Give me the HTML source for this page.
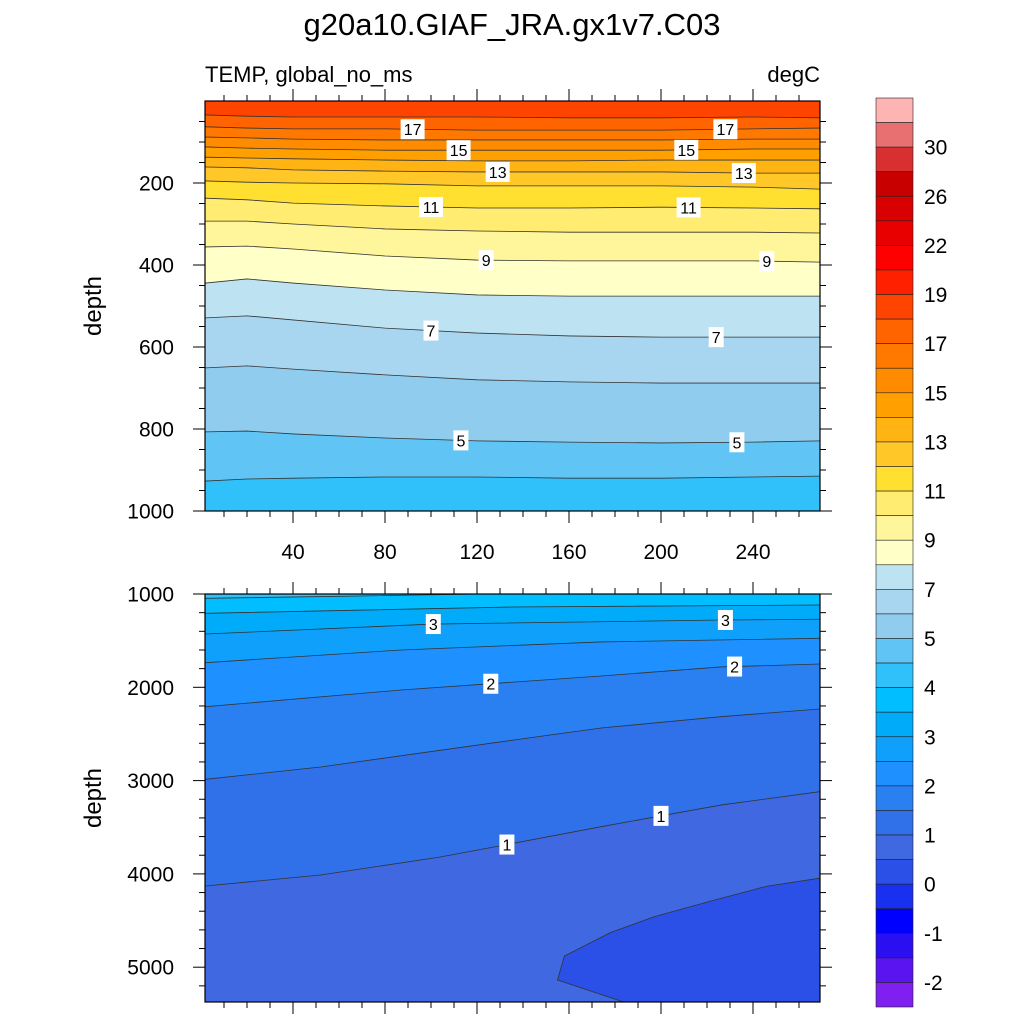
<!DOCTYPE html>
<html><head><meta charset="utf-8"><style>
html,body{margin:0;padding:0;background:#fff;}
svg{display:block;font-family:"Liberation Sans",sans-serif;}
</style></head><body>
<svg id="c" width="1024" height="1024" viewBox="0 0 1024 1024">
<text x="512" y="35" text-anchor="middle" font-size="31">g20a10.GIAF_JRA.gx1v7.C03</text>
<text x="205" y="82" font-size="22">TEMP, global_no_ms</text>
<text x="820" y="82" font-size="22" text-anchor="end">degC</text>
<g id="top"></g>
<g id="bot"></g>
<g id="cb"></g>
</svg>
<script>
// ---- data ----
const cbColors = ["#ffb4b4","#e87070","#d83030","#c80000","#d80000","#e80000","#ff0000","#ff2000","#ff4400","#ff6400","#ff7800","#ff8c00","#ffa000","#ffb414","#ffc828","#ffe030","#ffec70","#fff59a","#ffffc8","#bde3f2","#a8d6f0","#90cced","#60c4f4","#30c0fa","#00beff","#00acfa","#0ea0fa","#1e90ff","#2a80f0","#3070e8","#4068e0","#2a50e8","#1a30f0","#0000ff","#2a10f0","#5a14f0","#8020f0"];
const cbLevels = [32,30,28,26,24,22,20,19,18,17,16,15,14,13,12,11,10,9,8,7,6,5,4.5,4,3.5,3,2.5,2,1.5,1,0.5,0,-0.5,-1,-1.5,-2];
const cbTickLabels = ["30","26","22","19","17","15","13","11","9","7","5","4","3","2","1","0","-1","-2"];

const topXs = [2,20,40,80,120,160,200,240,269];
const topLevels = [18,17,16,15,14,13,12,11,10,9,8,7,6,5,4.5];
const topDepths = [
 [34,37,39,39,39,41,41,39,41],
 [63,66,68,68,71,71,71,68,66],
 [88,90,93,95,95,95,95,93,93],
 [112,115,117,120,120,120,120,117,117],
 [137,139,141,144,146,146,144,144,144],
 [161,163,168,171,173,173,173,176,176],
 [195,198,200,202,207,207,207,210,215],
 [237,241,249,256,261,261,259,261,263],
 [293,293,300,312,317,320,320,320,322],
 [356,354,361,378,388,390,390,390,393],
 [444,434,444,461,473,476,476,476,476],
 [529,524,534,554,566,573,576,576,576],
 [651,646,654,668,680,685,688,688,688],
 [807,805,812,822,829,832,834,832,829],
 [927,922,920,917,917,920,920,917,915]
];
const topLabelLevels = [17,17,15,15,13,13,11,11,9,9,7,7,5,5];
const topLabelXs = [92,228,112,211,129,236,100,212,124,246,100,224,113,233];

const botLevels = [4,3.5,3,2.5,2,1.5,1,0.5];
const botXs = [
 [2,60,122,269],
 [2,136,269],
 [2,101,226,269],
 [2,87,174,269],
 [2,87,174,226,269],
 [2,52,136,174,226,269],
 [2,52,104,132,174,226,269],
 [187,155,158,178,197,221,246,269]
];
const botDepths = [
 [1046,1025,1000,990],
 [1207,1139,1118],
 [1429,1322,1279,1271],
 [1736,1600,1514,1475],
 [2208,2029,1879,1782,1750],
 [2986,2854,2565,2436,2315,2233],
 [4130,4012,3819,3690,3494,3262,3119],
 [5400,5137,4880,4630,4459,4296,4132,4046]
];
const botLabelLevels = [3,3,2,2,1,1];
const botLabelXs = [101,228,126,232,133,200];

const topYTicks = [200,400,600,800,1000];
const botYTicks = [1000,2000,3000,4000,5000];
const xTicks = [40,80,120,160,200,240];

// ---- helpers ----
const NS="http://www.w3.org/2000/svg";
function mk(tag,attrs,parent){const e=document.createElementNS(NS,tag);for(const k in attrs)e.setAttribute(k,attrs[k]);parent.appendChild(e);return e;}
function colorOf(lo){const i=cbLevels.indexOf(lo); return cbColors[i+1];}
function colorAbove(lv){const i=cbLevels.indexOf(lv);return cbColors[i];}
const X0=201, XS=2.3, XL=205, XR=820;
const xp=v=>X0+v*XS;

function panel(g,cfg){
  const {yTop,yBot,d0,d1,levels,xsFn,depths,labLv,labX,yTicks,minorStep,clipId,name}=cfg;
  const yp=d=>yTop+(d-d0)/(d1-d0)*(yBot-yTop);
  const defs=mk('defs',{},g);
  const cp=mk('clipPath',{id:clipId},defs);
  mk('rect',{x:XL,y:yTop,width:XR-XL,height:yBot-yTop},cp);
  const inner=mk('g',{'clip-path':`url(#${clipId})`},g);
  const bg=mk('rect',{x:XL,y:yTop,width:XR-XL,height:yBot-yTop,fill:colorAbove(levels[0])},inner);
  
  
  const lines=[];
  levels.forEach((lv,i)=>{
    const xs=xsFn(i), ds=depths[i];
    const pts=xs.map((x,j)=>[xp(x),yp(ds[j])]);
    lines.push({lv,xs,ds});
    const poly=pts.map(p=>p.join(',')).concat([[xp(xs[xs.length-1]),yBot+20].join(','),[xp(xs[0]),yBot+20].join(',')]);
    if(xs[0]<=2){poly.push([XL-5,yBot+20].join(','));poly.push([XL-5,pts[0][1]].join(','));}
    if(xs[xs.length-1]>=269){poly.splice(pts.length,0,[XR+5,pts[pts.length-1][1]].join(','),[XR+5,yBot+20].join(','));}
    const band=mk('polygon',{points:poly.join(' '),fill:colorOf(lv)},inner);
    
    
  });
  lines.forEach(l=>{
    const pts=l.xs.map((x,j)=>[xp(x),yp(l.ds[j])]);
    if(l.xs[0]<=2)pts.unshift([XL-5,pts[0][1]]);
    if(l.xs[l.xs.length-1]>=269)pts.push([XR+5,pts[pts.length-1][1]]);
    const pl=mk('polyline',{points:pts.map(p=>p.join(',')).join(' '),fill:'none',stroke:'#333','stroke-width':0.8},inner);
    
    
  });
  labLv.forEach((lv,k)=>{
    const l=lines.find(q=>q.lv===lv); const x=labX[k];
    let d=l.ds[0];
    for(let j=0;j<l.xs.length-1;j++){const a=l.xs[j],b=l.xs[j+1];if(x>=Math.min(a,b)&&x<=Math.max(a,b)){d=l.ds[j]+(l.ds[j+1]-l.ds[j])*(x-a)/(b-a);break;}}
    const cx=xp(x),cy=yp(d), t=String(lv), w=t.length*9+6;
    const r=mk('rect',{x:cx-w/2,y:cy-10,width:w,height:20,fill:'#fff'},inner);
    
    
    const tx=mk('text',{x:cx,y:cy+6,'text-anchor':'middle','font-size':16},inner);
    tx.textContent=t;
    
    
  });
  const fr=mk('rect',{x:XL,y:yTop,width:XR-XL,height:yBot-yTop,fill:'none',stroke:'#000','stroke-width':1.2},g);
  
  
  for(let d=d0+minorStep; d<=d1; d+=minorStep){
    const y=yp(d), major=yTicks.includes(d), L=major?12:6;
    mk('line',{x1:XL-L,x2:XL,y1:y,y2:y,stroke:'#000','stroke-width':1},g);
    mk('line',{x1:XR,x2:XR+L,y1:y,y2:y,stroke:'#000','stroke-width':1},g);
  }
  if(d0===1000){const y=yp(1000);mk('line',{x1:XL-12,x2:XL,y1:y,y2:y,stroke:'#000','stroke-width':1},g);mk('line',{x1:XR,x2:XR+12,y1:y,y2:y,stroke:'#000','stroke-width':1},g);}
  yTicks.forEach(d=>{const t=mk('text',{x:XL-31,y:yp(d)+7.5,'text-anchor':'end','font-size':21},g);t.textContent=d;
    
    });
  for(let v=10;v<=260;v+=10){const x=xp(v),major=xTicks.includes(v),L=major?12:6;
    mk('line',{x1:x,x2:x,y1:yTop-L,y2:yTop,stroke:'#000','stroke-width':1},g);
    mk('line',{x1:x,x2:x,y1:yBot,y2:yBot+L,stroke:'#000','stroke-width':1},g);}
  const yl=mk('text',{x:0,y:0,transform:`translate(101,${(yTop+yBot)/2}) rotate(-90)`,'text-anchor':'middle','font-size':24},g);
  yl.textContent='depth';
  
  
}

panel(document.getElementById('top'),{yTop:101,yBot:511,d0:0,d1:1000,levels:topLevels,xsFn:()=>topXs,depths:topDepths,labLv:topLabelLevels,labX:topLabelXs,yTicks:topYTicks,minorStep:50,clipId:'ct',name:'upper'});
panel(document.getElementById('bot'),{yTop:594,yBot:1002,d0:1000,d1:5373,levels:botLevels,xsFn:i=>botXs[i],depths:botDepths,labLv:botLabelLevels,labX:botLabelXs,yTicks:botYTicks,minorStep:200,clipId:'cbt',name:'lower'});

const topG=document.getElementById('top');
xTicks.forEach(v=>{const t=mk('text',{x:xp(v),y:559,'text-anchor':'middle','font-size':21},topG);t.textContent=v;
  
  });

const cb=document.getElementById('cb');
const cbTop=98,cbBot=1007,bh=(cbBot-cbTop)/cbColors.length;
cbColors.forEach((c,i)=>{const r=mk('rect',{x:876,y:cbTop+i*bh,width:37,height:bh,fill:c,stroke:'#222','stroke-width':0.6},cb);
  
  });
cbTickLabels.forEach((s,k)=>{const t=mk('text',{x:924,y:cbTop+(2*k+2)*bh+7.5,'font-size':21},cb);t.textContent=s;
  
  });
</script>
</body></html>
